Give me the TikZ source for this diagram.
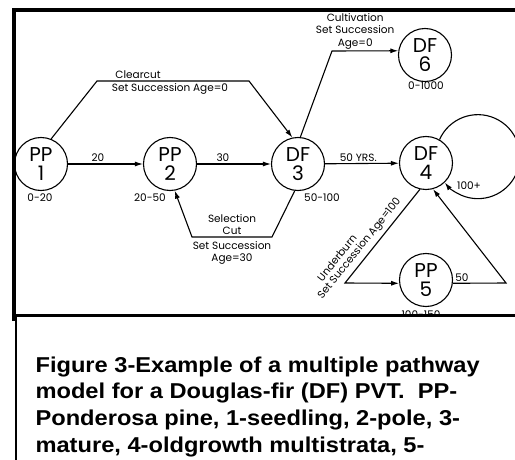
\documentclass[tikz,border=0pt]{standalone}
\usepackage{fontspec}
\setmainfont{Poppins}
\newfontfamily\capfont[FakeStretch=1.1]{Liberation Sans}
\usetikzlibrary{arrows.meta}

\begin{document}
\begin{tikzpicture}[x=1pt, y=1pt, >={Latex[length=8pt,width=5pt]}, line width=1.1pt,
    st/.style={circle, draw, minimum size=53pt, inner sep=0pt, align=center, font=\fontsize{20}{19}\selectfont},
    lbl/.style={font=\fontsize{10.5}{12.5}\selectfont, inner sep=1.5pt},
    frame/.style={line width=3.5pt}]
  \useasboundingbox (0,0) rectangle (515,-460);

  \node[st] (pp1) at (41,-164) {PP\\1};
  \node[st] (pp2) at (170,-164) {PP\\2};
  \node[st] (df3) at (298,-164) {DF\\3};
  \node[st] (df4) at (426,-163) {DF\\4};
  \node[st] (df6) at (425,-55) {DF\\6};
  \node[st] (pp5) at (426,-280) {PP\\5};

  \node[lbl] (a1) at (40,-198) {0-20};
  \node[lbl] (a2) at (150,-198) {20-50};
  \node[lbl] (a3) at (322,-198) {50-100};
  \node[lbl] (a6) at (426,-86) {0-1000};
  \node[lbl] (lp) at (469,-186) {100+};
  \node[lbl, anchor=base] (a5) at (421,-318) {100-150};

  \draw[->] (pp1) -- node[lbl, above, pos=0.4] {20} (pp2);
  \draw[->] (pp2) -- node[lbl, above, pos=0.35] {30} (df3);
  \draw[->] (df3) -- node[lbl, above, pos=0.45] {50 YRS.} (df4);
  \draw[->] (pp1.68) -- (97,-81) -- node[lbl, above, pos=0.27] {Clearcut} node[lbl, below, pos=0.48] {Set Succession Age=0} (249,-81) -- (df3.102);
  \draw[->] (df3.85) -- (332,-51) -- node[lbl, above=0pt, pos=0.35, align=center] {Cultivation\\Set Succession\\Age=0} (df6.171);
  \draw[->] (df3.-97) -- (272,-237) -- node[lbl, above, align=center] {Selection\\Cut} node[lbl, below=2pt, align=center] {Set Succession\\Age=30} (192,-237) -- (pp2.-80);
  \draw[->] (df4.-103) -- node[lbl, sloped, above=2.5pt, pos=0.7] {Set Succession Age=100} node[lbl, sloped, above=16pt, pos=0.88] {Underburn} (345,-283) -- (pp5.187);
  \draw[->] (pp5.-7) -- node[lbl, above, pos=0.17] {50} (506,-283) -- (df4.-75);
  \draw[->] (df4.60) arc[start angle=156, end angle=-142, radius=42];

  % caption box
  \fill[white] (14,-315) rectangle (515,-460);
  \draw[frame] (515,-10) -- (14,-10) -- (14,-321);
  \draw[frame, line width=3pt] (14,-315) -- (515,-315);
  \draw[line width=2.5pt] (16,-317) -- (16,-460);
  \node[anchor=north west, align=left, inner sep=0pt, font=\capfont\bfseries\fontsize{21.5}{26.7}\selectfont] (cap) at (35,-356)
    {Figure 3-Example of a multiple pathway\\model for a Douglas-fir (DF) PVT.\ \ PP-\\Ponderosa pine, 1-seedling, 2-pole, 3-\\mature, 4-oldgrowth multistrata, 5-};
\end{tikzpicture}
\end{document}
